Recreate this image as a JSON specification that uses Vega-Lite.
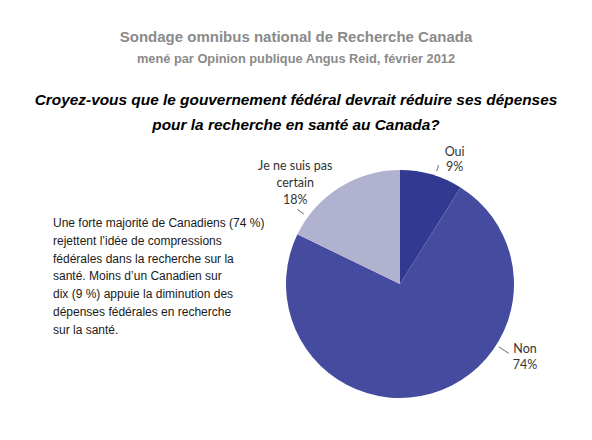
{
  "$schema": "https://vega.github.io/schema/vega-lite/v6.json",
  "background": "white",
  "padding": {"left": 5, "top": 29, "right": 0, "bottom": 5},
  "title": {
    "text": "Sondage omnibus national de Recherche Canada",
    "subtitle": "mené par Opinion publique Angus Reid, février 2012",
    "anchor": "middle",
    "font": "Liberation Sans",
    "fontSize": 15,
    "fontWeight": "bold",
    "color": "#8a8a8a",
    "subtitleFont": "Liberation Sans",
    "subtitleFontSize": 12.8,
    "subtitleFontWeight": "bold",
    "subtitleColor": "#8a8a8a",
    "subtitlePadding": 8,
    "offset": 27
  },
  "data": {
    "values": [
      {"reponse": "Oui", "pct": 9},
      {"reponse": "Non", "pct": 74},
      {"reponse": "Je ne suis pas certain", "pct": 18}
    ]
  },
  "vconcat": [
    {
      "title": {
        "text": [
          "Croyez-vous que le gouvernement fédéral devrait réduire ses dépenses",
          "pour la recherche en santé au Canada?"
        ],
        "anchor": "middle",
        "font": "Liberation Sans",
        "fontSize": 15.4,
        "fontWeight": "bold",
        "fontStyle": "italic",
        "color": "#000000",
        "lineHeight": 25,
        "offset": 6
      },
      "bounds": "flush",
      "spacing": 112,
      "hconcat": [
        {
          "width": 96,
          "height": 168,
          "data": {
            "values": [
              {
                "texte": "Une forte majorité de Canadiens (74 %)\nrejettent l’idée de compressions\nfédérales dans la recherche sur la\nsanté. Moins d’un Canadien sur\ndix (9 %) appuie la diminution des\ndépenses fédérales en recherche\nsur la santé."
              }
            ]
          },
          "mark": {
            "type": "text",
            "align": "left",
            "baseline": "middle",
            "lineBreak": "\n",
            "lineHeight": 17.8,
            "font": "Liberation Sans",
            "fontSize": 12,
            "color": "#1a1a1a"
          },
          "encoding": {"text": {"field": "texte"}}
        },
        {
          "width": 374,
          "height": 290,
          "transform": [
            {"calculate": "indexof(['Oui', 'Non', 'Je ne suis pas certain'], datum.reponse)", "as": "ordre"},
            {"calculate": "replace(datum.reponse, ' certain', '\\ncertain') + '\\n' + datum.pct + '%'", "as": "etiquette"}
          ],
          "layer": [
            {
              "mark": {"type": "arc", "outerRadius": 114},
              "encoding": {
                "theta": {"field": "pct", "type": "quantitative", "stack": true},
                "order": {"field": "ordre"},
                "color": {
                  "field": "reponse",
                  "type": "nominal",
                  "scale": {
                    "domain": ["Oui", "Non", "Je ne suis pas certain"],
                    "range": ["#323990", "#454c9f", "#b1b2d0"]
                  },
                  "legend": null
                }
              }
            },
            {
              "transform": [{"filter": "datum.reponse === 'Oui'"}],
              "mark": {"type": "arc", "theta": 0.314, "theta2": 0.314, "radius": 125, "radius2": 119, "fill": null, "stroke": "#7f7f7f", "strokeWidth": 0.8},
              "encoding": {}
            },
            {
              "transform": [{"filter": "datum.reponse === 'Non'"}],
              "mark": {"type": "arc", "theta": 2.138, "theta2": 2.138, "radius": 129, "radius2": 117, "fill": null, "stroke": "#7f7f7f", "strokeWidth": 0.8},
              "encoding": {}
            },
            {
              "transform": [{"filter": "datum.reponse === 'Je ne suis pas certain'"}],
              "mark": {"type": "arc", "theta": -0.942, "theta2": -0.942, "radius": 127, "radius2": 119, "fill": null, "stroke": "#7f7f7f", "strokeWidth": 0.8},
              "encoding": {}
            },
            {
              "transform": [{"filter": "datum.reponse === 'Oui'"}],
              "mark": {"type": "text", "theta": 0.392, "radius": 143, "align": "center", "baseline": "middle", "lineBreak": "\n", "lineHeight": 15, "font": "Lato", "fontSize": 12.5, "color": "#333333"},
              "encoding": {"text": {"field": "etiquette"}}
            },
            {
              "transform": [{"filter": "datum.reponse === 'Non'"}],
              "mark": {"type": "text", "theta": 2.052, "radius": 141, "align": "center", "baseline": "middle", "lineBreak": "\n", "lineHeight": 16, "font": "Lato", "fontSize": 12.5, "color": "#333333"},
              "encoding": {"text": {"field": "etiquette"}}
            },
            {
              "transform": [{"filter": "datum.reponse === 'Je ne suis pas certain'"}],
              "mark": {"type": "text", "theta": -0.725, "radius": 158, "align": "center", "baseline": "middle", "lineBreak": "\n", "lineHeight": 17, "font": "Lato", "fontSize": 12.5, "color": "#333333"},
              "encoding": {"text": {"field": "etiquette"}}
            }
          ]
        }
      ]
    }
  ],
  "config": {"view": {"stroke": null}}
}
